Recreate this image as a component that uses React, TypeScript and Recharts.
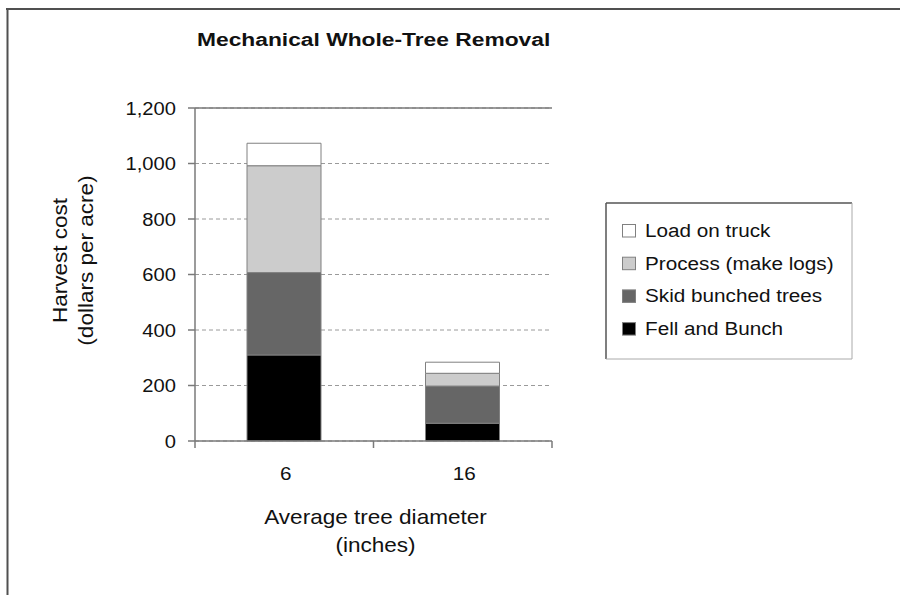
import React from 'react'
import { BarChart, Bar, XAxis, YAxis, CartesianGrid, ReferenceLine, Legend, Label } from 'recharts'

const categories = ['6', '16']
const fellAndBunch = [310, 64]
const skidBunchedTrees = [297, 134]
const processMakeLogs = [385, 46]
const loadOnTruck = [81, 40]
const yTicks = [0, 200, 400, 600, 800, 1000, 1200]

const series = [
  { key: 'fell', name: 'Fell and Bunch', values: fellAndBunch, color: '#000000' },
  { key: 'skid', name: 'Skid bunched trees', values: skidBunchedTrees, color: '#666666' },
  { key: 'process', name: 'Process (make logs)', values: processMakeLogs, color: '#cccccc' },
  { key: 'load', name: 'Load on truck', values: loadOnTruck, color: '#ffffff' },
]

const data = categories.map((diameter, i) => {
  const row: Record<string, string | number> = { diameter }
  series.forEach((s) => {
    row[s.key] = s.values[i]
  })
  return row
})

const FONT = '"Liberation Sans", Arial, Helvetica, sans-serif'
const TEXT = '#111'
const AXIS = '#7a7a7a'

const W = 900
const H = 595
const MARGIN = { top: 108, right: 348, bottom: 0, left: 0 }
const Y_AXIS_W = 195
const X_AXIS_H = 154
const PLOT_W = W - MARGIN.left - MARGIN.right - Y_AXIS_W
const HALF_BAND = PLOT_W / categories.length / 2

function YTick({ x, y, payload }: any) {
  return (
    <text
      transform={`translate(${x},${y}) scale(1.09,1)`}
      textAnchor="end"
      dy="0.36em"
      fontSize={18.5}
      fontFamily={FONT}
      fill={TEXT}
    >
      {Number(payload.value).toLocaleString('en-US')}
    </text>
  )
}

function XTick({ x, y, payload, index, visibleTicksCount }: any) {
  const last = index === visibleTicksCount - 1
  return (
    <g>
      <line x1={x - HALF_BAND} x2={x - HALF_BAND} y1={y - 7} y2={y} stroke={AXIS} strokeWidth={1.5} />
      {last && <line x1={x + HALF_BAND} x2={x + HALF_BAND} y1={y - 7} y2={y} stroke={AXIS} strokeWidth={1.5} />}
      <text
        transform={`translate(${x + 1.5},${y + 32}) scale(1.09,1)`}
        textAnchor="middle"
        fontSize={19}
        fontFamily={FONT}
        fill={TEXT}
      >
        {payload.value}
      </text>
    </g>
  )
}

function YTitle({ viewBox }: any) {
  const cy = viewBox.y + viewBox.height / 2 - 14
  const style = { fontSize: 20.5, fontFamily: FONT, fill: TEXT }
  return (
    <g>
      <text transform={`translate(${viewBox.x + 67},${cy}) rotate(-90) scale(1.1,1)`} textAnchor="middle" style={style}>
        Harvest cost
      </text>
      <text transform={`translate(${viewBox.x + 93},${cy}) rotate(-90) scale(1.1,1)`} textAnchor="middle" style={style}>
        (dollars per acre)
      </text>
    </g>
  )
}

function XTitle({ viewBox }: any) {
  const cx = viewBox.x + viewBox.width / 2 + 2
  const style = { fontSize: 20.5, fontFamily: FONT, fill: TEXT }
  return (
    <g>
      <text transform={`translate(${cx},${viewBox.y + 83}) scale(1.1,1)`} textAnchor="middle" style={style}>
        Average tree diameter
      </text>
      <text transform={`translate(${cx},${viewBox.y + 111}) scale(1.1,1)`} textAnchor="middle" style={style}>
        (inches)
      </text>
    </g>
  )
}

function LegendBox() {
  const items = [...series].reverse()
  return (
    <svg width={248} height={158} style={{ display: 'block' }}>
      <rect x={0} y={0} width={248} height={158} fill="#fff" />
      <line x1={1} y1={1} x2={247} y2={1} stroke="#555" strokeWidth={1.5} />
      <line x1={1} y1={1} x2={1} y2={157} stroke="#555" strokeWidth={1.5} />
      <line x1={247} y1={1} x2={247} y2={157} stroke="#aaa" strokeWidth={1} />
      <line x1={1} y1={157} x2={247} y2={157} stroke="#aaa" strokeWidth={1} />
      {items.map((s, i) => {
        const base = 35 + i * 32.7
        return (
          <g key={s.key}>
            <rect x={17.5} y={base - 12.5} width={13} height={12.5} fill={s.color} stroke="#808080" strokeWidth={1} />
            <text
              transform={`translate(40,${base}) scale(1.09,1)`}
              fontSize={19}
              fontFamily={FONT}
              fill={TEXT}
            >
              {s.name}
            </text>
          </g>
        )
      })}
    </svg>
  )
}

export default function App() {
  return (
    <div style={{ position: 'absolute', left: 0, top: 0, width: W, height: H, background: '#fff' }}>
      <svg width={W} height={H} style={{ position: 'absolute', left: 0, top: 0 }}>
        <line x1={6} y1={9} x2={W} y2={9} stroke="#505050" strokeWidth={2} />
        <line x1={7.5} y1={8} x2={7.5} y2={H} stroke="#505050" strokeWidth={2} />
        <text
          transform="translate(197,46) scale(1.2,1)"
          fontSize={19}
          fontWeight="bold"
          fontFamily={FONT}
          fill={TEXT}
        >
          Mechanical Whole-Tree Removal
        </text>
      </svg>
      <div style={{ position: 'absolute', left: 0, top: 0 }}>
        <BarChart width={W} height={H} data={data} margin={MARGIN} barSize={74}>
          <CartesianGrid vertical={false} stroke="#9a9a9a" strokeDasharray="4 3" />
          <XAxis
            dataKey="diameter"
            height={X_AXIS_H}
            tickLine={false}
            tickSize={7}
            tickMargin={0}
            axisLine={{ stroke: AXIS, strokeWidth: 1.5 }}
            tick={<XTick />}
            interval={0}
          >
            <Label content={<XTitle />} />
          </XAxis>
          <YAxis
            width={Y_AXIS_W}
            domain={[0, 1200]}
            ticks={yTicks}
            interval={0}
            tickSize={7}
            tickMargin={12}
            tickLine={{ stroke: AXIS, strokeWidth: 1.5 }}
            axisLine={{ stroke: AXIS, strokeWidth: 1.5 }}
            tick={<YTick />}
          >
            <Label content={<YTitle />} />
          </YAxis>
          <YAxis
            yAxisId="frame"
            orientation="right"
            width={0}
            domain={[0, 1200]}
            tick={false}
            tickLine={false}
            axisLine={{ stroke: AXIS, strokeWidth: 1.5 }}
          />
          <ReferenceLine y={1200} stroke={AXIS} strokeWidth={1.5} />
          {series.map((s) => (
            <Bar
              key={s.key}
              dataKey={s.key}
              name={s.name}
              stackId="cost"
              fill={s.color}
              stroke="#808080"
              strokeWidth={1}
              isAnimationActive={false}
            />
          ))}
          <Legend
            layout="vertical"
            align="center"
            verticalAlign="middle"
            width={248}
            height={158}
            wrapperStyle={{ left: 605, top: 202, width: 248, height: 158 }}
            content={<LegendBox />}
          />
        </BarChart>
      </div>
    </div>
  )
}
